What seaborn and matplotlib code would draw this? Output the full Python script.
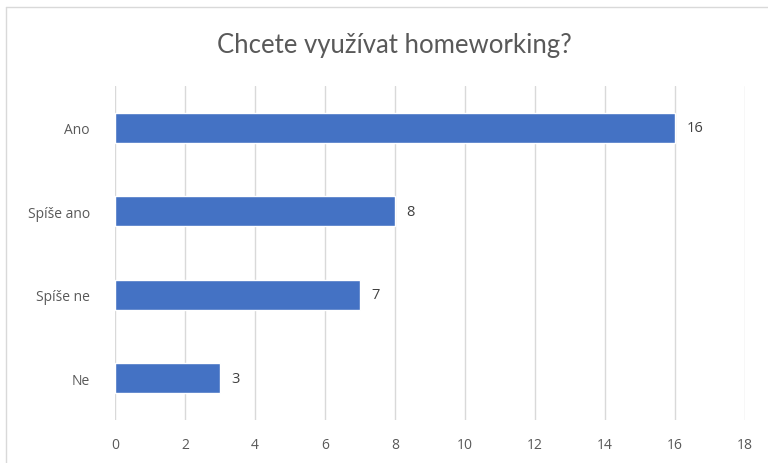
import matplotlib
matplotlib.use("Agg")
import matplotlib.pyplot as plt
import seaborn as sns
import pandas as pd
from matplotlib.lines import Line2D

# data
odpovedi = ["Ano", "Spíše ano", "Spíše ne", "Ne"]
pocty = [16, 8, 7, 3]
x_ticks = [0, 2, 4, 6, 8, 10, 12, 14, 16, 18]

df = pd.DataFrame({"odpoved": odpovedi, "pocet": pocty})

sns.set_theme(style="white")
plt.rcParams['font.family'] = ['Open Sans', 'DejaVu Sans']

fig = plt.figure(figsize=(7.68, 4.64), dpi=100)
ax = fig.add_axes([115 / 768, 1 - 421 / 464, 630 / 768, 334 / 464])

sns.barplot(data=df, x="pocet", y="odpoved", orient="h", color="#4472C4",
            width=0.36, saturation=1, ax=ax, zorder=3)

for i, v in enumerate(pocty):
    ax.text(v + 0.33, i, str(v), va="center", ha="left", fontsize=10.5, color="#404040")

ax.set_xlim(0, 18)
ax.set_xticks(x_ticks)
ax.set_xticklabels([str(t) for t in x_ticks], fontsize=10, color="#595959")
ax.tick_params(axis="y", labelsize=10, labelcolor="#595959", length=0, pad=18)
ax.tick_params(axis="x", length=0, pad=12)
ax.set_xlabel("")
ax.set_ylabel("")
ax.grid(axis="x", color="#D9D9D9", linewidth=1, zorder=0)
for s in ax.spines.values():
    s.set_visible(False)

fig.text(394 / 768, 1 - 46 / 464, "Chcete využívat homeworking?", ha="center", va="center",
         fontsize=18.5, color="#595959", family=["Lato", "DejaVu Sans"])

# chart frame (Excel style)
fig.add_artist(Line2D([6 / 768, 6 / 768], [0, 1 - 8 / 464], transform=fig.transFigure,
                      color="#D9D9D9", linewidth=1))
fig.add_artist(Line2D([6 / 768, 1], [1 - 8 / 464, 1 - 8 / 464], transform=fig.transFigure,
                      color="#D9D9D9", linewidth=1))

fig.savefig("out.png", dpi=100, facecolor="white")
